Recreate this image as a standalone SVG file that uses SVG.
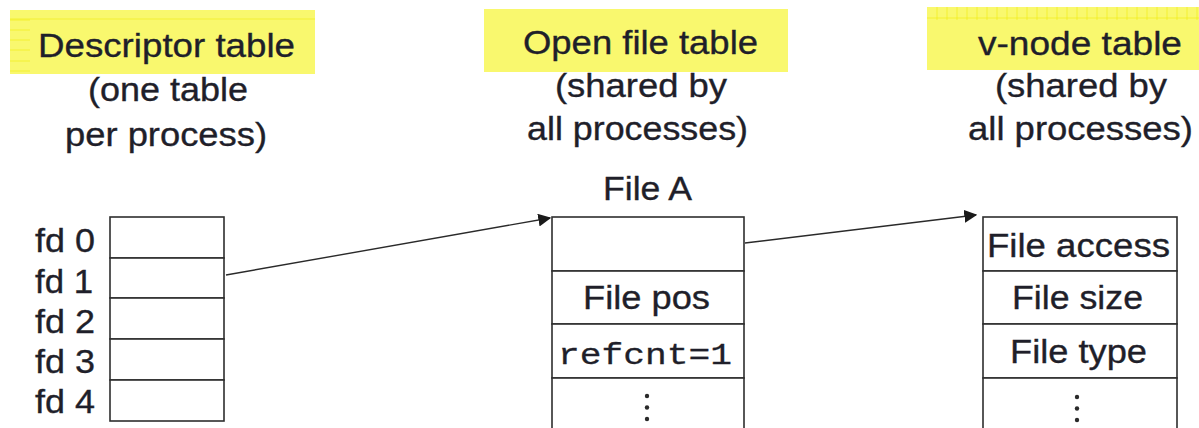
<svg xmlns="http://www.w3.org/2000/svg" width="1199" height="428" viewBox="0 0 1199 428">
  <style>
    .hl { fill: #f9f86e; }
    .grid { stroke: #f0ec10; stroke-width: 0.8; fill: none; opacity: 0.8; }
    .t { font-family: "Liberation Sans", Arial, sans-serif; font-size: 33px; fill: #1f1f2a; stroke: #1f1f2a; stroke-width: 0.35; }
    .mono { font-family: "Liberation Mono", "Courier New", monospace; font-size: 30px; fill: #1f1f2a; stroke: #1f1f2a; stroke-width: 0.3; }
    .cell { fill: #ffffff; stroke: #2e2e2e; stroke-width: 1.6; }
    .link { stroke: #2a2a2a; stroke-width: 1.4; fill: none; }
    .dot { fill: #2a2a2a; }
  </style>
  <defs>
    <marker id="arrow" viewBox="0 0 10 10" refX="9" refY="5" markerWidth="13" markerHeight="13" markerUnits="userSpaceOnUse" orient="auto">
      <path d="M0,0 L10,5 L0,10 z" fill="#1a1a1a"/>
    </marker>
  </defs>
  <rect width="1199" height="428" fill="#ffffff"/>

  <!-- Descriptor table heading -->
  <g id="descriptor-heading">
    <rect class="hl" x="10" y="10" width="305" height="64"/>
    <path class="grid" d="M10,20 H30 M10,30 H30 M10,40 H30 M10,50 H30 M10,61 H30 M10,71 H30 M10,19 H315"/>
    <text class="t" x="38" y="57" textLength="257" lengthAdjust="spacingAndGlyphs">Descriptor table</text>
    <text class="t" x="88" y="101" textLength="160" lengthAdjust="spacingAndGlyphs">(one table</text>
    <text class="t" x="65" y="146" textLength="202" lengthAdjust="spacingAndGlyphs">per process)</text>
  </g>

  <!-- Open file table heading -->
  <g id="openfile-heading">
    <rect class="hl" x="484" y="9" width="304" height="63"/>
    <text class="t" x="523" y="54" textLength="235" lengthAdjust="spacingAndGlyphs">Open file table</text>
    <text class="t" x="555" y="97" textLength="172" lengthAdjust="spacingAndGlyphs">(shared by</text>
    <text class="t" x="527" y="140" textLength="221" lengthAdjust="spacingAndGlyphs">all processes)</text>
    <text class="t" x="603" y="200" textLength="89" lengthAdjust="spacingAndGlyphs">File A</text>
  </g>

  <!-- v-node table heading -->
  <g id="vnode-heading">
    <rect class="hl" x="927" y="7" width="272" height="63"/>
    <path class="grid" d="M927,18 H1199 M937,7 V20 M947,7 V20 M957,7 V20 M967,7 V20 M977,7 V20 M987,7 V20 M997,7 V20 M1007,7 V20 M1017,7 V20 M1027,7 V20 M1037,7 V20 M1047,7 V20 M1057,7 V20 M1067,7 V20 M1077,7 V20 M1087,7 V20 M1097,7 V20 M1107,7 V20 M1117,7 V20 M1127,7 V20 M1137,7 V20 M1147,7 V20 M1157,7 V20 M1167,7 V20 M1177,7 V20 M1187,7 V20 M1197,7 V20"/>
    <text class="t" x="978" y="55" textLength="204" lengthAdjust="spacingAndGlyphs">v-node table</text>
    <text class="t" x="995" y="97" textLength="172" lengthAdjust="spacingAndGlyphs">(shared by</text>
    <text class="t" x="968" y="140" textLength="225" lengthAdjust="spacingAndGlyphs">all processes)</text>
  </g>

  <!-- Per-process descriptor table -->
  <g id="descriptor-table">
    <rect class="cell" x="110" y="217" width="114" height="41"/>
    <rect class="cell" x="110" y="258" width="114" height="40"/>
    <rect class="cell" x="110" y="298" width="114" height="41"/>
    <rect class="cell" x="110" y="339" width="114" height="41"/>
    <rect class="cell" x="110" y="380" width="114" height="41"/>
    <text class="t" x="35" y="252" textLength="60" lengthAdjust="spacingAndGlyphs">fd 0</text>
    <text class="t" x="35" y="293" textLength="58" lengthAdjust="spacingAndGlyphs">fd 1</text>
    <text class="t" x="35" y="333" textLength="60" lengthAdjust="spacingAndGlyphs">fd 2</text>
    <text class="t" x="35" y="373" textLength="60" lengthAdjust="spacingAndGlyphs">fd 3</text>
    <text class="t" x="35" y="413" textLength="60" lengthAdjust="spacingAndGlyphs">fd 4</text>
  </g>

  <!-- Open file table entry -->
  <g id="file-a">
    <rect class="cell" x="552" y="217" width="192" height="54"/>
    <rect class="cell" x="552" y="271" width="192" height="53"/>
    <rect class="cell" x="552" y="324" width="192" height="54"/>
    <rect class="cell" x="552" y="378" width="192" height="60"/>
    <text class="t" x="583" y="309" textLength="127" lengthAdjust="spacingAndGlyphs">File pos</text>
    <text class="mono" x="558" y="364" textLength="174" lengthAdjust="spacingAndGlyphs">refcnt=1</text>
    <circle class="dot" cx="647" cy="396" r="2.2"/>
    <circle class="dot" cx="647" cy="407.5" r="2.2"/>
    <circle class="dot" cx="647" cy="419" r="2.2"/>
  </g>

  <!-- v-node table entry -->
  <g id="vnode">
    <rect class="cell" x="983" y="217" width="194" height="54"/>
    <rect class="cell" x="983" y="271" width="194" height="53"/>
    <rect class="cell" x="983" y="324" width="194" height="54"/>
    <rect class="cell" x="983" y="378" width="194" height="60"/>
    <text class="t" x="987" y="257" textLength="183" lengthAdjust="spacingAndGlyphs">File access</text>
    <text class="t" x="1012" y="309" textLength="131" lengthAdjust="spacingAndGlyphs">File size</text>
    <text class="t" x="1010" y="363" textLength="137" lengthAdjust="spacingAndGlyphs">File type</text>
    <circle class="dot" cx="1077" cy="397" r="2.2"/>
    <circle class="dot" cx="1077" cy="408.5" r="2.2"/>
    <circle class="dot" cx="1077" cy="420" r="2.2"/>
  </g>

  <!-- Connectors -->
  <g id="connectors">
    <line class="link" x1="226" y1="275" x2="550" y2="218" marker-end="url(#arrow)"/>
    <line class="link" x1="745" y1="243" x2="976" y2="215" marker-end="url(#arrow)"/>
  </g>
</svg>
